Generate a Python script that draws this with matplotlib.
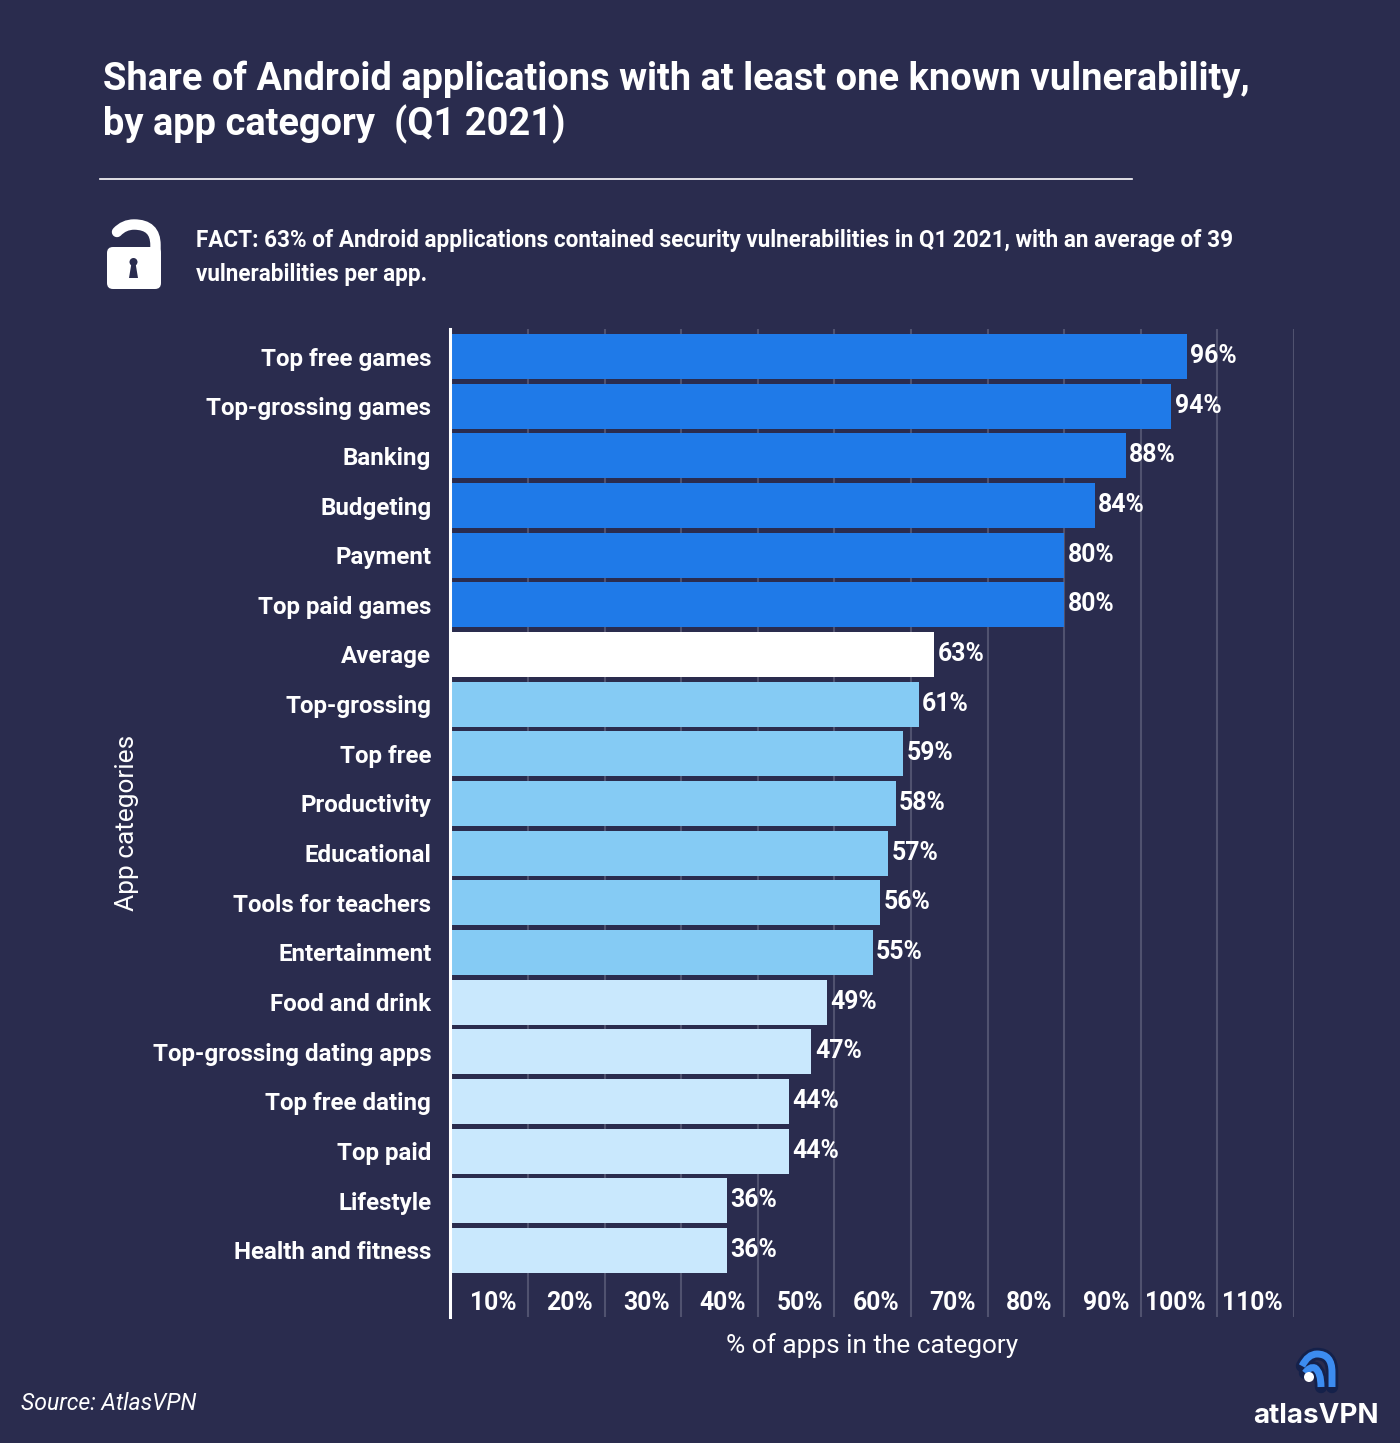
import matplotlib
matplotlib.use("Agg")
import matplotlib.pyplot as plt
from matplotlib.patches import FancyBboxPatch, Circle, Polygon, PathPatch
from matplotlib.path import Path
from matplotlib.transforms import ScaledTranslation

categories = ["Top free games", "Top-grossing games", "Banking", "Budgeting", "Payment",
              "Top paid games", "Average", "Top-grossing", "Top free", "Productivity",
              "Educational", "Tools for teachers", "Entertainment", "Food and drink",
              "Top-grossing dating apps", "Top free dating", "Top paid", "Lifestyle",
              "Health and fitness"]
values = [96, 94, 88, 84, 80, 80, 63, 61, 59, 58, 57, 56, 55, 49, 47, 44, 44, 36, 36]
DARK, WHITE, MID, LIGHT = "#1f7ae8", "#ffffff", "#85cbf4", "#c9e8fd"
colors = [DARK]*6 + [WHITE] + [MID]*6 + [LIGHT]*6
xticks = list(range(10, 120, 10))
xticklabels = [f"{v}%" for v in xticks]

BG = "#2a2c4e"
W, H = 1400, 1443
plt.rcParams['font.family'] = ['Roboto', 'DejaVu Sans']
fig = plt.figure(figsize=(W/100, H/100), dpi=100, facecolor=BG)

def axrect(l, t, r, b):
    return [l/W, 1-b/H, (r-l)/W, (b-t)/H]

ax = fig.add_axes(axrect(451.5, 329, 1294, 1317), facecolor=BG)
y = list(range(len(categories)))
ax.barh(y, values, height=0.906, color=colors, zorder=3, linewidth=0)
ax.set_xlim(0, 110)
ax.set_ylim(19.34, -0.554)
ax.set_yticks(y, categories)
ax.set_xticks(xticks, xticklabels)
ax.grid(axis='x', color="#50526f", lw=1.5, zorder=0)
ax.set_axisbelow(True)
ax.tick_params(axis='both', length=0)
for s in ['top', 'right', 'bottom']:
    ax.spines[s].set_visible(False)
ax.spines['left'].set_color('white')
ax.spines['left'].set_linewidth(2.2)
ax.spines['left'].set_position(('outward', 1))
ax.spines['left'].set_zorder(4)
for t in ax.get_yticklabels():
    t.set(color='white', fontsize=17.4, fontweight='bold', ha='right')
    t.set_transform(t.get_transform() + ScaledTranslation(-14/100, 0, fig.dpi_scale_trans))
off = ScaledTranslation(-11.5/100, 31/100, fig.dpi_scale_trans)
for t in ax.get_xticklabels():
    t.set(color='white', fontsize=17.8, fontweight='bold', ha='right')
    t.set_transform(t.get_transform() + off)
ax.set_xlabel("% of apps in the category", color='white', fontsize=18.9)
ax.xaxis.set_label_coords(872/W, 1-1333/H, transform=fig.transFigure)
ax.set_ylabel("App categories", color='white', fontsize=18.9)
ax.yaxis.set_label_coords(139/W, 1-823/H, transform=fig.transFigure)

for i, v in enumerate(values):
    ax.annotate(f"{v}%", (v, i), xytext=(2.4, 0.4), textcoords='offset points', color='white',
                fontsize=17.9, fontweight='bold', va='center', ha='left', zorder=5)

def T(x, y, s, **k):
    fig.text(x/W, 1-y/H, s, color='white', va='center', **k)

T(103, 79, "Share of Android applications with at least one known vulnerability,", fontsize=27.35, fontweight='bold')
T(103, 124, "by app category  (Q1 2021)", fontsize=27.35, fontweight='bold')
fig.add_artist(plt.Line2D([100/W, 1132/W], [1-179/H]*2, color='white', lw=1.2))
T(196, 240, "FACT: 63% of Android applications contained security vulnerabilities in Q1 2021, with an average of 39", fontsize=16.23, fontweight='bold')
T(196, 275, "vulnerabilities per app.", fontsize=16.23, fontweight='bold')
T(21, 1403, "Source: AtlasVPN", fontsize=16.6, fontstyle='italic', fontweight='normal')
T(1253, 1416, "atlasVPN", fontsize=20, fontweight='bold', family=['Inter', 'DejaVu Sans'])

# overlay axes in pixel coordinates for the decorations
ov = fig.add_axes([0, 0, 1, 1], facecolor='none')
ov.set_xlim(0, W); ov.set_ylim(H, 0); ov.axis('off')
C3 = Path.CURVE3; L = Path.LINETO; M = Path.MOVETO
# lock
shackle = Path([(117, 232), (124, 224.5), (134, 224.5), (155.5, 224.5), (155.5, 245), (155.5, 252)],
               [M, C3, C3, C3, C3, L])
ov.add_patch(PathPatch(shackle, fc='none', ec='white', lw=7.5, capstyle='round'))
ov.add_patch(FancyBboxPatch((107, 247), 54, 42, boxstyle="round,pad=0,rounding_size=6", fc='white', ec='none'))
ov.add_patch(Circle((133.5, 262), 4, fc=BG, ec='none'))
ov.add_patch(Polygon([(131.5, 263), (135.5, 263), (138, 278), (129, 278)], fc=BG, ec='none'))
# logo
outer = Path([(1302, 1366), (1308, 1354), (1317, 1354), (1332, 1354), (1332, 1372), (1332, 1387)],
             [M, C3, C3, C3, C3, L])
inner = Path([(1305, 1373), (1310, 1366), (1315, 1368), (1321, 1372), (1321, 1387)],
             [M, C3, C3, C3, C3])
for p in (outer, inner):
    ov.add_patch(PathPatch(p, fc='none', ec='#15214a', lw=9, capstyle='round'))
for p in (outer, inner):
    ov.add_patch(PathPatch(p, fc='none', ec='#3c8cf0', lw=5, capstyle='butt'))
ov.add_patch(Circle((1309, 1377), 5, fc='white', ec='none'))
fig.savefig("out.png", dpi=100, facecolor=BG)
